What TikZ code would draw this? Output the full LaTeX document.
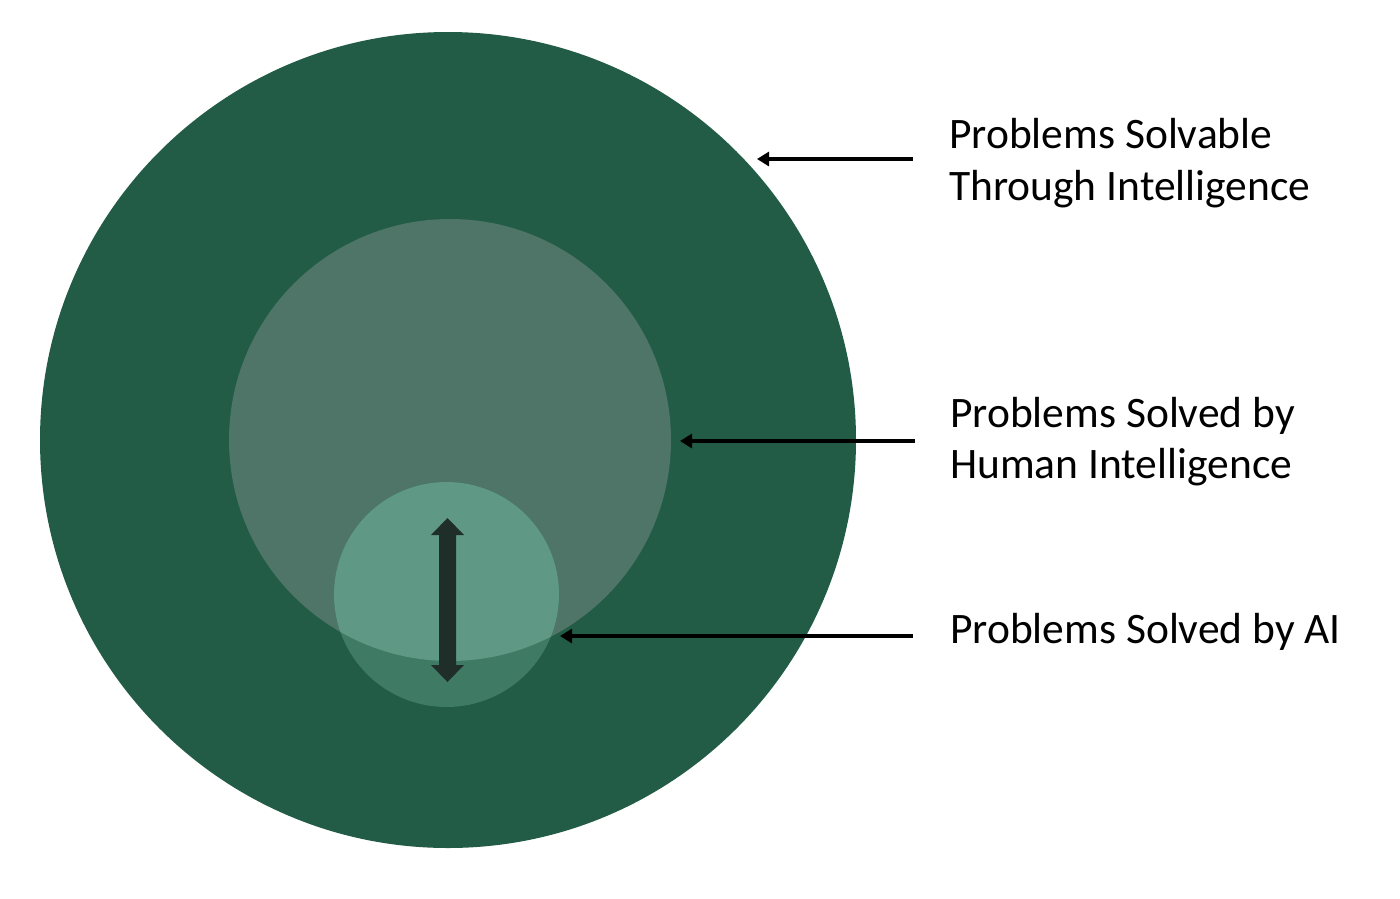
\documentclass[tikz,border=0pt]{standalone}
\usepackage{fontspec}
\setmainfont{Carlito}
\usetikzlibrary{arrows.meta}
\definecolor{darkg}{HTML}{225C47}
\definecolor{midg}{HTML}{4E7568}
\definecolor{smallg}{HTML}{5F9885}
\definecolor{lowg}{HTML}{3F7A65}
\definecolor{arrowc}{HTML}{1F2E29}
\tikzset{
  lbl/.style={anchor=base west, inner sep=0pt, align=left, font=\fontsize{43.5}{52}\selectfont, text=black},
  pointer/.style={line width=3.5pt, -{Triangle[length=12pt,width=14pt]}, black},
}
\begin{document}
\begin{tikzpicture}[x=1pt,y=-1pt]
\useasboundingbox (0,0) rectangle (1400,898);
\fill[white] (0,0) rectangle (1400,898);
% circles
\fill[darkg] (448,440) circle (408);
\node[circle, minimum size=816pt, inner sep=0pt] (outer) at (448,440) {};
\fill[midg] (450,440) circle (221);
\node[circle, minimum size=442pt, inner sep=0pt] (middle) at (450,440) {};
\fill[lowg] (446.5,594.5) circle (112.5);
\begin{scope}
\clip (450,440) circle (221);
\fill[smallg] (446.5,594.5) circle (112.5);
\end{scope}
\node[circle, minimum size=225pt, inner sep=0pt] (inner) at (446.5,594.5) {};
% double arrow
\fill[arrowc] (447.5,518) -- (464,535) -- (456,535) -- (456,665) -- (464,665) -- (447.5,682)
  -- (431,665) -- (439,665) -- (439,535) -- (431,535) -- cycle;
% labels
\node[lbl] (l1) at (949,148) {Problems Solvable};
\node[lbl] (l1b) at (949,200) {Through Intelligence};
\node[lbl] (l2) at (950,427) {Problems Solved by};
\node[lbl] (l2b) at (950,478) {Human Intelligence};
\node[lbl] (l3) at (950,643) {Problems Solved by AI};
% pointers
\coordinate (s1) at (913,159);
\coordinate (t1) at (757,159);
\coordinate (s2) at (915,441);
\coordinate (t2) at (680,441);
\coordinate (s3) at (913,636);
\coordinate (t3) at (560,636);
\draw[pointer] (s1) -- (t1);
\draw[pointer] (s2) -- (t2);
\draw[pointer] (s3) -- (t3);
\end{tikzpicture}
\end{document}
